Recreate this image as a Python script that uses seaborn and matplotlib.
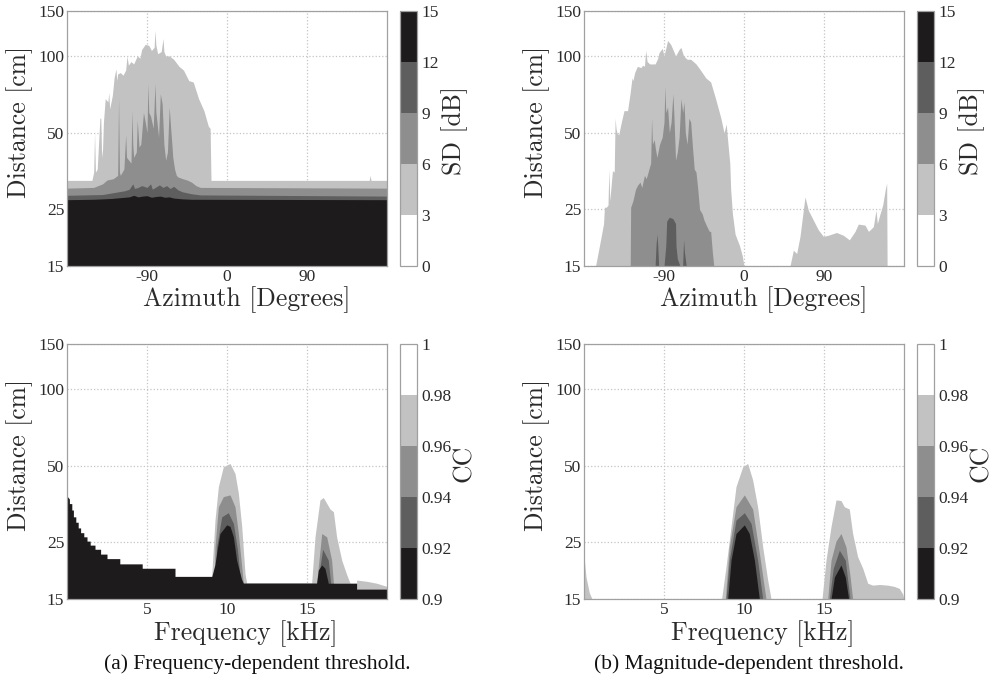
import numpy as np
import matplotlib
matplotlib.use("Agg")
import matplotlib.pyplot as plt
import seaborn as sns
from matplotlib.colors import ListedColormap, BoundaryNorm
from matplotlib.ticker import NullLocator, FixedLocator, FixedFormatter
import matplotlib.colorbar as mcolorbar

sns.set_theme(style="white")
plt.rcParams["font.family"] = ["Liberation Serif", "DejaVu Serif"]

# ---------------- data ----------------
SD_LEVELS = [0, 3, 6, 9, 12, 15]
SD_TICKLABELS = ["0", "3", "6", "9", "12", "15"]
CC_LEVELS = [0.9, 0.92, 0.94, 0.96, 0.98, 1.0]
CC_TICKLABELS = ["0.9", "0.92", "0.94", "0.96", "0.98", "1"]
DIST_TICKS = [15, 25, 50, 100, 150]
AZ_TICKS = [-90, 0, 90]
AZ_TICKLABELS = ["-90", "0", "90"]
FREQ_TICKS = [5, 10, 15]
FREQ_TICKLABELS = ["5", "10", "15"]

# (a) top: distance (cm) below which SD >= 3, 6, 9, 12 dB, per azimuth
TL_AZ_3 = [-180, -152, -150, -149, -148, -146, -143, -142, -141, -140, -139, -137, -134, -133, -132, -129, -127, -125,
           -124, -123, -120, -117, -114, -112.5, -111, -108, -105, -101, -98, -96, -92, -88, -85, -82, -81, -80, -78,
           -74, -72, -71, -69, -65, -60, -54, -49, -43, -38, -32, -26, -21, -19, -18, -17, 160, 161, 162, 180]
TL_D_3 = [32.5, 32.5, 35, 50, 35, 36, 57, 57, 40, 43, 55, 68, 66, 72, 62, 70, 82, 89, 80, 85, 86, 84, 88, 100, 92, 95,
          93, 100, 98, 106, 111, 110, 105, 108, 126, 110, 102, 104, 117, 104, 100, 100, 97, 91, 88, 80, 79, 68, 61, 53,
          52, 32.5, 32.5, 32.5, 34, 32.5, 32.5]
TL_AZ_6 = [-180, -150, -140, -135, -128, -123, -122, -121, -120, -116, -114, -113, -108, -107, -106, -105, -102, -101,
           -100, -99, -97, -94, -92, -90, -89, -88, -86, -83, -81, -80, -79, -77, -75, -73, -71, -69, -67, -65, -63, -62,
           -61, -59, -57, -55, -50, -45, -40, -35, -30, 180]
TL_D_6 = [30.3, 30.5, 31.5, 32.6, 33, 34, 68, 35, 34, 36, 49, 40, 38, 61, 45, 40, 42, 56, 50, 44, 45, 60, 55, 50, 78, 60,
          58, 52, 78, 60, 56, 48, 71, 65, 45, 39, 42, 63, 50, 45, 40, 36, 34, 33.5, 33, 32.6, 32, 31, 30.5, 30.3]
TL_AZ_9 = [-180, -140, -125, -115, -110, -106, -104, -100, -96, -90, -86, -84, -80, -76, -72, -68, -64, -60, -55, -50,
           -40, -30, 180]
TL_D_9 = [28.4, 28.6, 29.2, 29.6, 30, 31.5, 30.2, 30.5, 31, 30.5, 31.5, 30, 30.6, 31.2, 30.5, 31, 30.2, 30.8, 29.8, 29.3,
          28.8, 28.5, 28.2]
TL_AZ_12 = [-180, -150, -130, -120, -110, -105, -100, -95, -90, -85, -80, -75, -70, -65, -60, -50, -40, 180]
TL_D_12 = [27.3, 27.4, 27.6, 27.8, 28.0, 28.4, 28.0, 28.2, 28.3, 27.9, 28.1, 28.2, 27.9, 28.0, 27.7, 27.5, 27.4, 27.3]

# (b) top
TR_AZ_3 = [-167, -164, -161, -158, -157, -155, -153, -152, -151, -148, -146, -145, -144, -143, -141, -138, -135, -131,
           -128, -126, -125, -123, -120, -116, -114, -112, -110.6, -109, -106, -100, -97, -95.6, -92, -90, -88, -86,
           -82.5, -79, -77, -73, -71, -68, -64, -60, -54, -49, -43, -37.5, -32, -26, -22.5, -20, -18, -16, -15, -13,
           -10, -5, -2, 0, 51.75, 55.5, 59.25, 63, 68.6, 72.4, 78, 83.6, 89.25, 94.9, 104, 111.75, 118.5, 124.9, 128.6,
           136.1, 140, 145.5, 148.5, 150, 153, 156, 159, 160.5, 161]
TR_D_3 = [15, 17, 19.3, 22, 25.5, 25.5, 26, 36, 27, 35.5, 35, 57, 52, 50, 49, 55, 61, 61, 72, 82, 80, 86, 91, 90, 92, 91,
          105, 95, 93, 93, 98, 103, 107, 100, 107, 115, 111, 104, 100, 106, 108, 100, 97, 97, 93, 88, 82, 79, 68, 57,
          50, 54, 45, 38, 30, 24, 20, 18, 16.5, 15, 15, 17.3, 16.8, 19.6, 28, 24.8, 22.7, 20.8, 19.6, 19.8, 20.3, 19.8,
          19, 20.5, 21.9, 21.7, 20.5, 21.4, 24.8, 22, 24, 26, 30, 31.7, 15]
TR_AZ_6 = [-128, -127.5, -125, -122, -120, -117, -115, -112, -110, -105, -104, -103, -101, -100, -98, -95, -92, -90,
           -89, -88, -86, -84, -82, -80, -79, -77, -75, -73, -71, -69, -67.5, -66, -64, -62, -60, -58, -56, -54, -52,
           -50, -47, -45, -42, -39, -37.5, -35.6, -34]
TR_D_6 = [15, 25.5, 27, 30, 31, 32, 30.5, 34, 33, 38, 57, 45, 47, 44, 40, 45, 48, 55, 76, 60, 63, 50, 55, 71, 60, 39, 42,
          48, 68, 60, 66, 50, 45, 57, 55, 44, 36, 35, 30, 25, 24, 22.7, 21.5, 20.5, 20.5, 17, 15]
TR_AZ_9 = [-100, -99, -98, -97, -96, -90, -88, -87, -84, -80, -77, -76.5, -75, -72, -69, -68, -67, -65]
TR_D_9 = [15, 18, 20, 18, 15, 15, 18, 22.5, 23.3, 23, 22, 18, 16, 15, 15, 19, 17, 15]

# (a) bottom: distance (cm) below which CC < 0.98, 0.96, 0.94, 0.92, per frequency (kHz)
BL_F_98 = [0, 9.04, 9.25, 9.46, 9.77, 10.19, 10.5, 10.71, 10.92, 11.125, 11.23, 15.29, 15.5, 15.81, 16.02, 16.44, 16.65,
           16.85, 17.17, 17.48, 17.69, 18.1, 18.1, 18.73, 19.35, 20]
BL_D_98 = [15, 18.4, 30.6, 41.4, 49.5, 51, 46.6, 39, 28.9, 18.9, 17.3, 17.3, 26.3, 36.7, 37.5, 33.8, 33, 26.3, 21.3,
           18.7, 17.3, 17.3, 17.8, 17.6, 17.3, 16.8]
BL_F_96 = [0, 9.2, 9.25, 9.46, 9.77, 10.19, 10.5, 10.71, 10.92, 11.02, 15.6, 15.92, 16.23, 16.54, 16.65, 20]
BL_D_96 = [15, 18.4, 24, 34.5, 37.8, 38.4, 34.5, 27.1, 20.1, 17.3, 17.3, 27.1, 26.3, 21.3, 17.3, 15]
BL_F_94 = [0, 9.3, 9.35, 9.67, 10.08, 10.4, 10.65, 10.85, 15.65, 15.98, 16.33, 16.48, 20]
BL_D_94 = [15, 18.4, 24, 31.5, 32.7, 29.7, 23.5, 17.3, 17.3, 23.5, 21.3, 17.3, 15]
BL_F_92 = [0, 0.15, 0.15, 0.3, 0.3, 0.4, 0.4, 0.55, 0.55, 0.7, 0.7, 0.85, 0.85, 1.05, 1.05, 1.25, 1.25, 1.45, 1.45,
           1.75, 1.75, 2.1, 2.1, 2.5, 2.5, 3.3, 3.3, 4.7, 4.7, 6.75, 6.75, 9.05, 9.25, 9.35, 9.56, 9.98, 10.19, 10.4,
           10.6, 10.9, 11.02, 15.6, 15.71, 15.92, 16.12, 16.33, 18.1, 18.1, 20]
BL_D_92 = [38, 37, 35.5, 35.5, 33.5, 33.5, 31.5, 31.5, 30, 30, 28.5, 28.5, 27.3, 27.3, 26.3, 26.3, 25.3, 25.3, 24.4,
           24.4, 23.5, 23.5, 22.5, 22.5, 21.6, 21.6, 20.6, 20.6, 19.8, 19.8, 18.4, 18.4, 20.5, 22.7, 27.1, 29.3, 28.9,
           26.3, 21.3, 18, 17.3, 17.3, 19.5, 20.4, 19.8, 17.3, 17.3, 16.4, 16.4]

# (b) bottom
BR_F_98 = [0, 0.125, 0.33, 0.5, 8.6, 8.875, 9.19, 9.5, 9.92, 10.23, 10.54, 10.85, 11.17, 11.48, 11.69, 14.875, 15.125,
           15.44, 15.75, 16.06, 16.27, 16.58, 16.79, 17.1, 17.42, 17.73, 18.04, 18.46, 18.98, 19.4, 19.71, 19.92, 20]
BR_D_98 = [22, 18.3, 15.9, 15, 15, 20.1, 28.9, 41.4, 49.5, 51, 44, 34.5, 24, 17.8, 15, 15, 21.3, 28.9, 36.7, 36.5, 34.5,
           33.8, 27.1, 22, 19.8, 17.3, 17, 17.1, 17, 16.8, 16.5, 15.7, 15]
BR_F_96 = [0, 8.83, 9.08, 9.5, 10.02, 10.54, 10.96, 11.375, 15.23, 15.44, 15.75, 16.06, 16.375, 16.625, 16.79, 20]
BR_D_96 = [15, 15, 24, 34.5, 38.4, 33.8, 22.7, 15, 15, 21.3, 25.3, 27.1, 24, 18.5, 15, 15]
BR_F_94 = [0, 8.875, 9.08, 9.5, 10.02, 10.44, 10.85, 11.17, 15.33, 15.58, 15.96, 16.33, 16.625, 20]
BR_D_94 = [15, 15, 21.3, 30.6, 32.7, 29.7, 21.3, 15, 15, 19.8, 23.3, 21.3, 15, 15]
BR_F_92 = [0, 8.98, 9.19, 9.5, 10.02, 10.33, 10.65, 10.96, 15.44, 15.65, 16.06, 16.33, 16.54, 20]
BR_D_92 = [15, 15, 21.3, 27.1, 29.3, 27.1, 21.3, 15, 15, 18.3, 20.4, 18.3, 15, 15]

CAPTION_A = "(a) Frequency-dependent threshold."
CAPTION_B = "(b) Magnitude-dependent threshold."

# ---------------- style ----------------
GRAYS = ["#ffffff", "#c2c2c2", "#8e8e8e", "#5e5e5e", "#1e1b1c"]
SPINE = "#a0a0a0"
TXT = "#2a2a2a"
LABEL_FONT = ["cmr10", "Liberation Serif"]
TICK_FS = 12.5
LABEL_FS = 18.5

W, H = 992, 687
fig = plt.figure(figsize=(W / 100, H / 100), dpi=100)


def frac(x0, y0, x1, y1):
    return [x0 / W, 1 - y1 / H, (x1 - x0) / W, (y1 - y0) / H]


def draw_panel(ax, layers, xlim, xticks, xticklabels, xlabel, xlab_y):
    for (xs, ds), col in zip(layers, GRAYS[1:]):
        ax.fill_between(xs, 15, ds, color=col, linewidth=0, zorder=2)
    ax.set_yscale("log")
    ax.set_ylim(15, 150)
    ax.set_xlim(*xlim)
    ax.yaxis.set_major_locator(FixedLocator(DIST_TICKS))
    ax.yaxis.set_major_formatter(FixedFormatter([str(t) for t in DIST_TICKS]))
    ax.yaxis.set_minor_locator(NullLocator())
    ax.xaxis.set_major_locator(FixedLocator(xticks))
    ax.xaxis.set_major_formatter(FixedFormatter(xticklabels))
    ax.xaxis.set_minor_locator(NullLocator())
    ax.set_axisbelow(True)
    ax.grid(True, which="major", color="#c4c4c4", linestyle=":", linewidth=0.9)
    for s in ax.spines.values():
        s.set_color(SPINE)
        s.set_linewidth(0.9)
        s.set_zorder(3)
    ax.tick_params(axis="both", which="both", direction="in", length=0, labelsize=TICK_FS, labelcolor=TXT)
    ax.tick_params(axis="x", pad=2)
    ax.tick_params(axis="y", pad=2)
    ax.set_ylabel("Distance [cm]", fontsize=LABEL_FS, family=LABEL_FONT, color=TXT)
    ax.yaxis.set_label_coords(-0.105, 0.565)
    ax.set_xlabel(xlabel, fontsize=LABEL_FS, family=LABEL_FONT, color=TXT)
    ax.xaxis.set_label_coords(0.56, xlab_y)


def draw_cbar(cax, levels, ticklabels, label, lab_x):
    cols = GRAYS if levels is SD_LEVELS else GRAYS[::-1]
    cmap = ListedColormap(cols)
    norm = BoundaryNorm(levels, cmap.N)
    cb = mcolorbar.ColorbarBase(cax, cmap=cmap, norm=norm, boundaries=levels, ticks=levels,
                                spacing="uniform", orientation="vertical")
    cb.ax.set_yticklabels(ticklabels)
    cb.outline.set_edgecolor(SPINE)
    cb.outline.set_linewidth(0.9)
    cax.tick_params(length=0, pad=3, labelsize=TICK_FS, labelcolor=TXT)
    cax.text(lab_x, 0.53, label, transform=cax.transAxes, rotation=90, ha="center", va="center",
             fontsize=LABEL_FS, family=LABEL_FONT, color=TXT)


# panel geometry (pixels)
LX0, LX1 = 67, 387
RX0, RX1 = 584, 904
TY0, TY1 = 11, 266
BY0, BY1 = 344, 599
LC0, LC1 = 400, 417
RC0, RC1 = 917, 934

ax_tl = fig.add_axes(frac(LX0, TY0, LX1, TY1))
ax_tr = fig.add_axes(frac(RX0, TY0, RX1, TY1))
ax_bl = fig.add_axes(frac(LX0, BY0, LX1, BY1))
ax_br = fig.add_axes(frac(RX0, BY0, RX1, BY1))
cax_tl = fig.add_axes(frac(LC0, TY0, LC1, TY1))
cax_tr = fig.add_axes(frac(RC0, TY0, RC1, TY1))
cax_bl = fig.add_axes(frac(LC0, BY0, LC1, BY1))
cax_br = fig.add_axes(frac(RC0, BY0, RC1, BY1))

draw_panel(ax_tl, [(TL_AZ_3, TL_D_3), (TL_AZ_6, TL_D_6), (TL_AZ_9, TL_D_9), (TL_AZ_12, TL_D_12)],
           (-180, 180), AZ_TICKS, AZ_TICKLABELS, "Azimuth [Degrees]", -0.08)
draw_panel(ax_tr, [(TR_AZ_3, TR_D_3), (TR_AZ_6, TR_D_6), (TR_AZ_9, TR_D_9)],
           (-180, 180), AZ_TICKS, AZ_TICKLABELS, "Azimuth [Degrees]", -0.08)
draw_panel(ax_bl, [(BL_F_98, BL_D_98), (BL_F_96, BL_D_96), (BL_F_94, BL_D_94), (BL_F_92, BL_D_92)],
           (0, 20), FREQ_TICKS, FREQ_TICKLABELS, "Frequency [kHz]", -0.082)
draw_panel(ax_br, [(BR_F_98, BR_D_98), (BR_F_96, BR_D_96), (BR_F_94, BR_D_94), (BR_F_92, BR_D_92)],
           (0, 20), FREQ_TICKS, FREQ_TICKLABELS, "Frequency [kHz]", -0.082)

draw_cbar(cax_tl, SD_LEVELS, SD_TICKLABELS, "SD [dB]", 3.2)
draw_cbar(cax_tr, SD_LEVELS, SD_TICKLABELS, "SD [dB]", 3.2)
draw_cbar(cax_bl, CC_LEVELS, CC_TICKLABELS, "CC", 3.8)
draw_cbar(cax_br, CC_LEVELS, CC_TICKLABELS, "CC", 3.8)

fig.text(257 / W, 1 - 664 / H, CAPTION_A, ha="center", va="center", fontsize=15.5, color="#111111")
fig.text(749 / W, 1 - 664 / H, CAPTION_B, ha="center", va="center", fontsize=15.5, color="#111111")

fig.savefig("out.png", dpi=100, facecolor="white")
